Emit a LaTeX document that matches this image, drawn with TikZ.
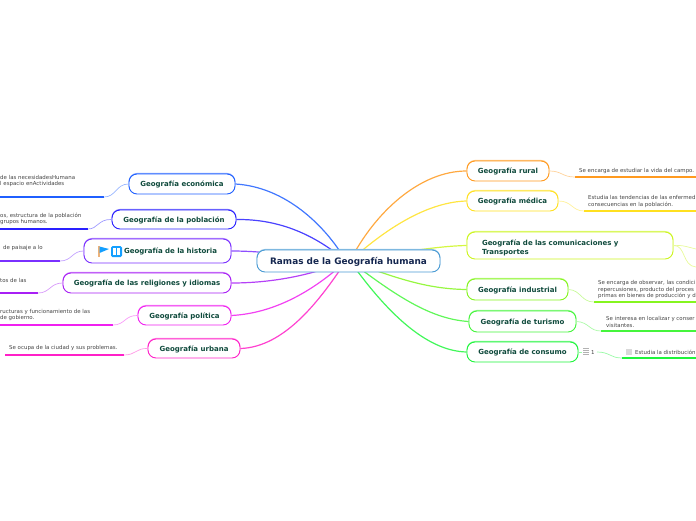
\documentclass[tikz,border=0pt]{standalone}
\usepackage{fontspec}
\setmainfont{DejaVu Sans}
\definecolor{txtbranch}{HTML}{0F4A3C}
\definecolor{txtmain}{HTML}{14264F}
\definecolor{txtnote}{HTML}{444444}
\definecolor{cmain}{HTML}{4A9BD4}
\definecolor{cecon}{HTML}{1F5FFF}
\definecolor{cpob}{HTML}{2A20FF}
\definecolor{chist}{HTML}{7A30FF}
\definecolor{crel}{HTML}{A81FF5}
\definecolor{cpol}{HTML}{F020F0}
\definecolor{curb}{HTML}{FF20C8}
\definecolor{crur}{HTML}{FF9A1F}
\definecolor{cmed}{HTML}{FFE020}
\definecolor{ccom}{HTML}{CCF51F}
\definecolor{cind}{HTML}{85F51F}
\definecolor{ctur}{HTML}{45F53C}
\definecolor{ccon}{HTML}{1FF53C}
\tikzset{
  branch/.style={draw=#1,fill=white,rounded corners=8pt,line width=0.9pt,inner sep=0pt,
    preaction={draw=#1!55,transform canvas={yshift=0.6pt}},text depth=0pt,
    text=txtbranch,font=\bfseries\fontsize{7}{9}\selectfont},
  note/.style={anchor=west,inner sep=0pt,align=left,text=txtnote,font=\fontsize{5.45}{6.6}\selectfont},
  link/.style={line width=1.2pt,#1!85},
  sublink/.style={line width=0.7pt,#1!45},
  noterule/.style={line width=1.4pt,#1},
}
\begin{document}
\begin{tikzpicture}[x=1pt,y=-1pt]
  \useasboundingbox (0,0) rectangle (696,520);
  \coordinate (hubL) at (346,261);
  \coordinate (hubR) at (350,261);

  % left branches
  \node[branch=cecon,minimum width=106pt,minimum height=20pt](econ)at(182,184){Geografía económica};
  \node[branch=cpob,minimum width=124pt,minimum height=19pt](pob)at(174,219.5){Geografía de la población};
  \node[branch=chist,minimum width=147pt,minimum height=24pt,text width=119pt,align=right](hist)at(157.5,251){Geografía de la historia};
  \node[branch=crel,minimum width=168pt,minimum height=20pt](rel)at(147,283){Geografía de las religiones y idiomas};
  \node[branch=cpol,minimum width=93pt,minimum height=19pt](pol)at(184.5,315.5){Geografía política};
  \node[branch=curb,minimum width=92pt,minimum height=19pt](urb)at(194,348.5){Geografía urbana};
  % right branches
  \node[branch=crur,minimum width=82pt,minimum height=20pt](rur)at(508,171){Geografía rural};
  \node[branch=cmed,minimum width=91pt,minimum height=20pt](med)at(512.5,201){Geografía médica};
  \node[branch=ccom,minimum width=206pt,minimum height=27pt,text width=176pt,align=left,text depth=5pt](com)at(570,245.5){Geografía de las comunicaciones y\\Transportes};
  \node[branch=cind,minimum width=101pt,minimum height=21pt](ind)at(517.5,289.5){Geografía industrial};
  \node[branch=ctur,minimum width=107pt,minimum height=21pt](tur)at(522.5,321.5){Geografía de turismo};
  \node[branch=ccon,minimum width=111pt,minimum height=20pt](con)at(522.5,352){Geografía de consumo};

  % main links
  \draw[link=cecon](hubL).. controls (325,225) and (285,187) ..(econ.east);
  \draw[link=cpob](hubL).. controls (315,235) and (280,219) ..(pob.east);
  \draw[link=chist](hubL).. controls (310,258) and (270,251) ..(hist.east);
  \draw[link=crel](hubL).. controls (320,272) and (280,283) ..(rel.east);
  \draw[link=cpol](hubL).. controls (320,285) and (280,313) ..(pol.east);
  \draw[link=curb](hubL).. controls (320,300) and (285,347) ..(urb.east);
  \draw[link=crur](hubR).. controls (375,212) and (420,171) ..(rur.west);
  \draw[link=cmed](hubR).. controls (390,225) and (430,202) ..(med.west);
  \draw[link=ccom](hubR).. controls (400,252) and (440,246) ..(com.west);
  \draw[link=cind](hubR).. controls (400,280) and (430,289) ..(ind.west);
  \draw[link=ctur](hubR).. controls (395,295) and (430,319) ..(tur.west);
  \draw[link=ccon](hubR).. controls (385,310) and (425,351) ..(con.west);

  \node[draw=cmain,fill=white,rounded corners=8pt,line width=0.9pt,minimum width=183pt,minimum height=22pt,inner sep=0pt,text depth=0pt,
    preaction={draw=cmain!55,transform canvas={yshift=0.6pt}},text=txtmain,font=\bfseries\fontsize{8.9}{10}\selectfont]
    (main) at (348.5,261) {Ramas de la Geografía humana};

  % flag and blue icon
  \fill[brown!50!orange!60] (98,246) rectangle (99.5,257);
  \fill[cecon!60!cyan] (99.5,246.5)--(109,249)--(99.5,253)--cycle;
  \fill[cecon!60!cyan,rounded corners=1.5pt] (111,246) rectangle (122,257);
  \fill[white] (113,248) rectangle (116,255);
  \fill[white] (117,248) rectangle (120,255);

  % notes on the left
  \coordinate (recon) at (104,197);
  \coordinate (rpob) at (88,229);
  \coordinate (rhist) at (60,261);
  \coordinate (rrel) at (38,293);
  \coordinate (rpol) at (113,325);
  \coordinate (rurb) at (124,355);
  \draw[noterule=cecon](0,197)--(recon);
  \draw[noterule=cpob](0,229)--(rpob);
  \draw[noterule=chist](0,261)--(rhist);
  \draw[noterule=crel](0,293)--(rrel);
  \draw[noterule=cpol](0,325)--(rpol);
  \draw[noterule=curb](5,355)--(rurb);
  \draw[sublink=cecon](recon).. controls (116,197) and (116,184) ..(econ.west);
  \draw[sublink=cpob](rpob).. controls (98,229) and (98,219) ..(pob.west);
  \draw[sublink=chist](rhist).. controls (72,261) and (72,251) ..(hist.west);
  \draw[sublink=crel](rrel).. controls (50,293) and (50,283) ..(rel.west);
  \draw[sublink=cpol](rpol).. controls (125,325) and (125,315) ..(pol.west);
  \draw[sublink=curb](rurb).. controls (136,355) and (136,348) ..(urb.west);
  \node[note](necon)at(0,181){de las necesidadesHumana\\l espacio enActividades};
  \node[note](npob)at(0,219){os, estructura de la población\\grupos humanos.};
  \node[note](nhist)at(3,248){de paisaje a lo};
  \node[note](nrel)at(0,280){tos de las};
  \node[note](npol)at(0,315){ructuras y funcionamiento de las\\de gobierno.};
  \node[note](nurb)at(9,348){Se ocupa de la ciudad y sus problemas.};

  % notes on the right
  \coordinate (lrur) at (575,177);
  \coordinate (lmed) at (584,211);
  \coordinate (lind) at (594,302);
  \coordinate (ltur) at (601,331);
  \coordinate (lcon) at (622,358);
  \coordinate (lcount) at (597,352);
  \coordinate (icount) at (582,352);
  \coordinate (ecoma) at (696,249);
  \coordinate (ecomb) at (696,267);
  \draw[noterule=crur](lrur)--(696,177);
  \draw[noterule=cmed](lmed)--(696,211);
  \draw[noterule=cind](lind)--(696,302);
  \draw[noterule=ctur](ltur)--(696,331);
  \draw[noterule=ccon](lcon)--(696,358);
  \draw[sublink=crur](rur.east).. controls (562,171) and (562,177) ..(lrur);
  \draw[sublink=cmed](med.east).. controls (572,201) and (572,211) ..(lmed);
  \draw[sublink=cind](ind.east).. controls (581,290) and (581,302) ..(lind);
  \draw[sublink=ctur](tur.east).. controls (589,322) and (589,331) ..(ltur);
  \draw[sublink=ccon](con.east)--(icount);
  \draw[sublink=ccon](lcount).. controls (610,352) and (610,358) ..(lcon);
  \draw[sublink=ccom](com.east).. controls (682,245) and (684,246) ..(ecoma);
  \draw[sublink=ccom](com.east).. controls (686,245) and (682,266) ..(ecomb);
  \node[note](nrur)at(579,171){Se encarga de estudiar la vida del campo.};
  \node[note](nmed)at(588,201.5){Estudia las tendencias de las enfermed\\consecuencias en la población.};
  \node[note](nind)at(598,289.5){Se encarga de observar, las condici\\repercusiones, producto del proces\\primas en bienes de producción y d};
  \node[note](ntur)at(606,322){Se interesa en localizar y conser\\visitantes.};
  \node[note](ncon)at(635,352){Estudia la distribución};
  \fill[gray!30] (626,349) rectangle (632,355);
  \draw[gray!60,line width=0.6pt] (583,348)--(589,348) (583,350)--(589,350) (583,352)--(589,352) (583,354)--(589,354);
  \node[note](ncount)at(591,352.5){1};
\end{tikzpicture}
\end{document}
